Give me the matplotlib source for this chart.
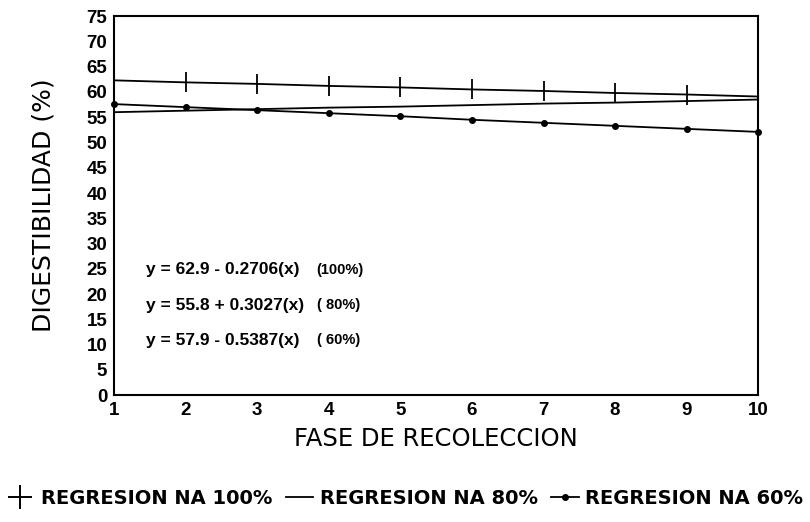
import matplotlib
matplotlib.use("Agg")
import matplotlib.pyplot as plt
from matplotlib.lines import Line2D

plt.rcParams['font.family'] = ['Liberation Sans', 'DejaVu Sans']
plt.rcParams['font.weight'] = 'bold'

fase = [1, 2, 3, 4, 5, 6, 7, 8, 9, 10]
na100 = [62.3, 61.9, 61.6, 61.2, 60.9, 60.5, 60.2, 59.8, 59.5, 59.1]
na80 = [56.0, 56.3, 56.6, 56.9, 57.1, 57.4, 57.7, 57.9, 58.2, 58.5]
na60 = [57.6, 57.0, 56.4, 55.8, 55.2, 54.5, 53.9, 53.3, 52.7, 52.1]
yticks = list(range(0, 80, 5))
equations = ["y = 62.9 - 0.2706(x)", "y = 55.8 + 0.3027(x)", "y = 57.9 - 0.5387(x)"]
eq_tags = ["(100%)", "( 80%)", "( 60%)"]
legend_labels = ["REGRESION NA 100%", "REGRESION NA 80%", "REGRESION NA 60%"]

fig = plt.figure(figsize=(8.1, 5.22), dpi=100)
ax = fig.add_axes([0.141, 0.243, 0.795, 0.726])

ax.plot(fase, na100, color='black', lw=1.3, marker='|', markersize=14,
        markeredgewidth=1.3, markevery=slice(1, 9), clip_on=False)
ax.plot(fase, na80, color='black', lw=1.3, clip_on=False)
ax.plot(fase, na60, color='black', lw=1.3, marker='o', markersize=4,
        clip_on=False)

ax.set_xlim(1, 10)
ax.set_ylim(0, 75)
ax.set_xticks(fase)
ax.set_yticks(yticks)
ax.tick_params(length=0, labelsize=13.5, pad=5)
for lab in ax.get_xticklabels() + ax.get_yticklabels():
    lab.set_fontweight('bold')
for s in ax.spines.values():
    s.set_linewidth(1.5)

ax.set_xlabel("FASE DE RECOLECCION", fontsize=17.5, labelpad=6,
              family='DejaVu Sans', fontweight='normal')
ax.set_ylabel("DIGESTIBILIDAD (%)", fontsize=18, labelpad=22,
              family='DejaVu Sans', fontweight='normal')

eq_y = [24.8, 17.8, 10.9]
for eq, tag, yy in zip(equations, eq_tags, eq_y):
    ax.text(1.45, yy, eq, fontsize=12.5, fontweight='bold', va='center')
    ax.text(3.83, yy, tag, fontsize=10.5, fontweight='bold', va='center')

handles = [
    Line2D([], [], color='black', marker='+', markersize=17, lw=0, markeredgewidth=1.4),
    Line2D([], [], color='black', lw=1.3),
    Line2D([], [], color='black', lw=1.3, marker='o', markersize=4),
]
fig.legend(handles, legend_labels, loc='center', bbox_to_anchor=(0.5, 0.045),
           ncol=3, frameon=False, handlelength=1.4,
           handletextpad=0.35, columnspacing=0.7,
           prop={'family': 'DejaVu Sans', 'size': 14, 'weight': 'semibold'})

fig.savefig("out.png", dpi=100)
